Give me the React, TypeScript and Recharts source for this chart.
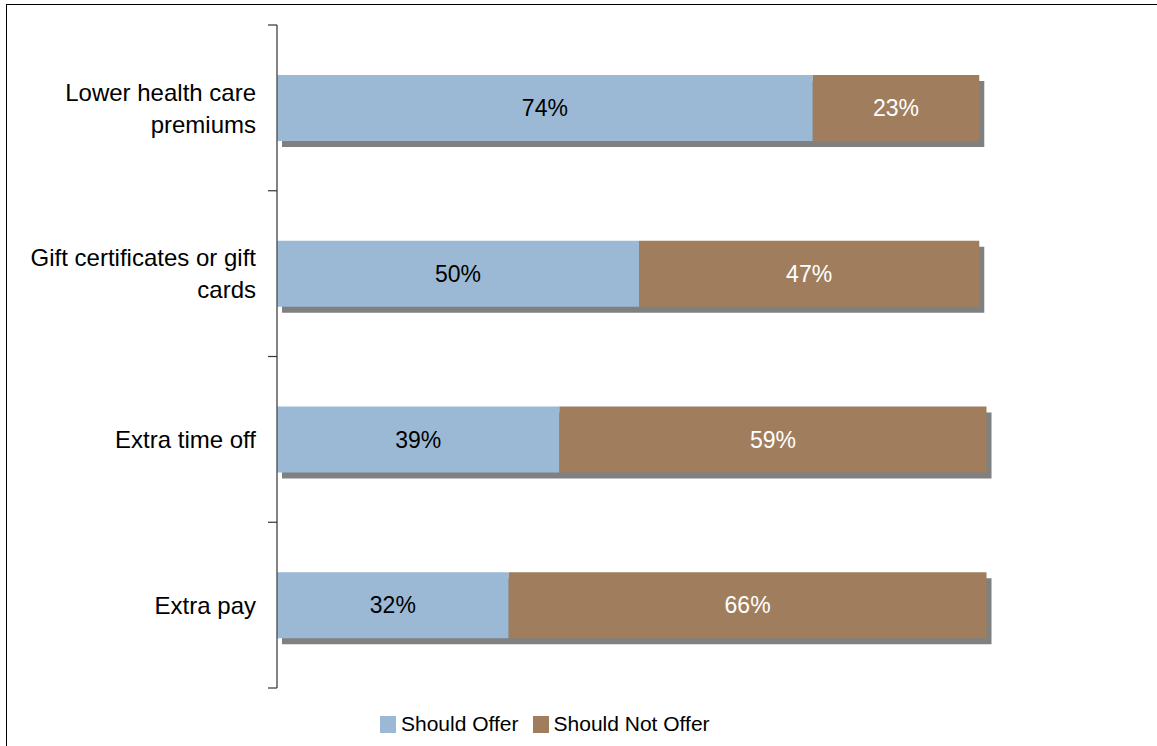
import React from 'react';
import { BarChart, Bar, XAxis, YAxis, LabelList } from 'recharts';

const categories = ['Lower health care premiums', 'Gift certificates or gift cards', 'Extra time off', 'Extra pay'];
const shouldOffer = [74, 50, 39, 32];
const shouldNotOffer = [23, 47, 59, 66];
const seriesNames = ['Should Offer', 'Should Not Offer'];
const seriesColors = ['#9BB9D4', '#A07E5D'];

const data = categories.map((name, i) => ({ name, offer: shouldOffer[i], notOffer: shouldNotOffer[i] }));

const FONT = '"Liberation Sans", Arial, Helvetica, sans-serif';
const TICK_FONT_SIZE = 24;
const AXIS_X = 277;
const MARGIN_TOP = 25;
const MARGIN_BOTTOM = 58;
const CHART_H = 746;

let measureCtx: CanvasRenderingContext2D | null = null;
function measure(s: string): number {
  if (!measureCtx) {
    const c = document.createElement('canvas');
    measureCtx = c.getContext('2d');
  }
  if (!measureCtx) return s.length * TICK_FONT_SIZE * 0.5;
  measureCtx.font = `${TICK_FONT_SIZE}px ${FONT}`;
  return measureCtx.measureText(s).width;
}

function wrapWords(text: string, maxWidth: number): string[] {
  const words = text.split(' ');
  const lines: string[] = [];
  let cur = '';
  words.forEach((w) => {
    const trial = cur ? `${cur} ${w}` : w;
    if (cur && measure(trial) > maxWidth) {
      lines.push(cur);
      cur = w;
    } else {
      cur = trial;
    }
  });
  if (cur) lines.push(cur);
  return lines;
}

const ShadowBar = (props: any) => {
  const { x, y, width, height, payload, fill } = props;
  const total = payload.offer + payload.notOffer;
  const totalWidth = (width / payload.offer) * total;
  return (
    <g>
      <rect x={x + 5} y={y + 6} width={totalWidth} height={height} fill="#808080" />
      <rect x={x} y={y} width={width} height={height} fill={fill} />
    </g>
  );
};

const CategoryTick = (props: any) => {
  const { y, payload, index, visibleTicksCount } = props;
  const count = visibleTicksCount || categories.length;
  const half =
    payload && typeof payload.offset === 'number' && payload.offset > 0
      ? payload.offset
      : (CHART_H - MARGIN_TOP - MARGIN_BOTTOM) / count / 2;
  const lines = wrapWords(String(payload.value), 240);
  const lh = 32;
  const startY = y - ((lines.length - 1) * lh) / 2;
  const tickStroke = { stroke: '#333', strokeWidth: 1.2 };
  return (
    <g>
      <line x1={AXIS_X - 9} x2={AXIS_X} y1={y - half} y2={y - half} {...tickStroke} />
      {index === count - 1 && <line x1={AXIS_X - 9} x2={AXIS_X} y1={y + half} y2={y + half} {...tickStroke} />}
      <text x={256} y={startY} textAnchor="end" fontSize={TICK_FONT_SIZE} fontFamily={FONT} fill="#000">
        {lines.map((l, i) => (
          <tspan key={i} x={256} y={startY + i * lh} dy="0.36em">
            {l}
          </tspan>
        ))}
      </text>
    </g>
  );
};

export default function App() {
  return (
    <div style={{ position: 'absolute', left: 0, top: 0, width: 1157, height: 746, overflow: 'hidden', background: '#fff' }}>
      <div style={{ position: 'absolute', left: 6, top: 4, width: 1300, height: 900, borderTop: '1.5px solid #000', borderLeft: '1.5px solid #000' }} />
      <div style={{ position: 'absolute', left: 0, top: 0 }}>
        <BarChart
          width={1157}
          height={CHART_H}
          data={data}
          layout="vertical"
          margin={{ top: MARGIN_TOP, right: 156, bottom: MARGIN_BOTTOM, left: 0 }}
          barSize={66}
        >
          <XAxis type="number" domain={[0, 100]} hide />
          <YAxis
            type="category"
            dataKey="name"
            width={AXIS_X}
            axisLine={{ stroke: '#5a5a5a', strokeWidth: 1.5 }}
            tickLine={false}
            tick={<CategoryTick />}
            interval={0}
          />
          <Bar dataKey="offer" stackId="a" fill={seriesColors[0]} shape={<ShadowBar />} isAnimationActive={false}>
            <LabelList dataKey="offer" position="center" formatter={(v: any) => `${v}%`} fill="#000" fontSize={23} fontFamily={FONT} />
          </Bar>
          <Bar dataKey="notOffer" stackId="a" fill={seriesColors[1]} isAnimationActive={false}>
            <LabelList dataKey="notOffer" position="center" formatter={(v: any) => `${v}%`} fill="#fff" fontSize={23} fontFamily={FONT} />
          </Bar>
        </BarChart>
      </div>
      <div style={{ position: 'absolute', left: 380, top: 715, height: 18, display: 'flex', alignItems: 'center', fontFamily: FONT, fontSize: 21, color: '#000' }}>
        {seriesNames.map((n, i) => (
          <div key={n} style={{ display: 'flex', alignItems: 'center', marginRight: 14 }}>
            <div style={{ width: 16, height: 17, background: seriesColors[i], marginRight: 5 }} />
            <span style={{ lineHeight: '18px' }}>{n}</span>
          </div>
        ))}
      </div>
    </div>
  );
}
